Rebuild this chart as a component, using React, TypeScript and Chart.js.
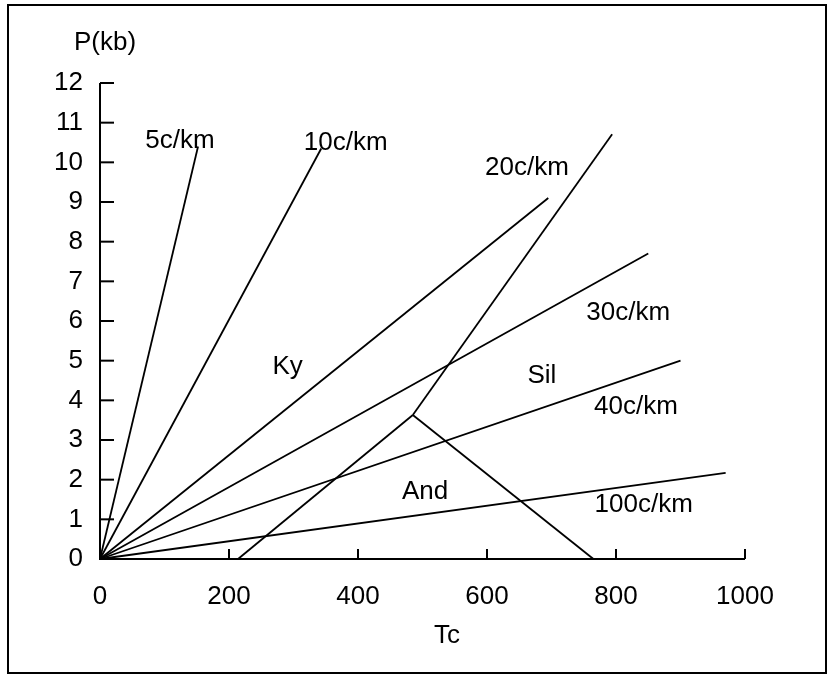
import React, { useEffect, useRef } from "react";
import { Chart, registerables } from "chart.js";

Chart.register(...registerables);

// Axis ticks
const xTickValues = [0, 200, 400, 600, 800, 1000];
const yTickValues = [0, 1, 2, 3, 4, 5, 6, 7, 8, 9, 10, 11, 12];

// Geotherms: straight lines from the origin (T in °C, P in kb)
const geothermNames = ["5c/km", "10c/km", "20c/km", "30c/km", "40c/km", "100c/km"];
const geothermEndT = [152, 343, 695, 850, 900, 970];
const geothermEndP = [10.4, 10.35, 9.1, 7.7, 5.0, 2.17];

// Al2SiO5 phase boundaries
const kyAndT = [214, 485];
const kyAndP = [0, 3.63];
const kySilT = [485, 794];
const kySilP = [3.63, 10.71];
const andSilT = [485, 765];
const andSilP = [3.63, 0];

// In-plot labels (data coordinates of the text centre / baseline)
const labelTexts = ["5c/km", "10c/km", "20c/km", "30c/km", "40c/km", "100c/km", "Ky", "Sil", "And"];
const labelT = [124, 381, 662, 819, 831, 843, 291, 685, 504];
const labelP = [10.36, 10.31, 9.68, 6.02, 3.66, 1.18, 4.66, 4.44, 1.51];

const FONT = "Liberation Sans, Arial, Helvetica, sans-serif";

function pts(ts: number[], ps: number[]) {
  return ts.map((t, i) => ({ x: t, y: ps[i] }));
}

const overlay = {
  id: "overlay",
  afterDraw(chart: any) {
    const { ctx, chartArea, scales } = chart;
    const xs = scales.x;
    const ys = scales.y;
    ctx.save();
    ctx.strokeStyle = "#000";
    ctx.fillStyle = "#000";
    // outer frame
    ctx.lineWidth = 2;
    ctx.strokeRect(8, 5, 818, 668);
    // axes
    ctx.lineWidth = 2;
    ctx.beginPath();
    ctx.moveTo(chartArea.left, ys.getPixelForValue(12));
    ctx.lineTo(chartArea.left, ys.getPixelForValue(0));
    ctx.lineTo(xs.getPixelForValue(1000), ys.getPixelForValue(0));
    ctx.stroke();
    // y ticks (inward)
    for (const v of yTickValues) {
      const y = ys.getPixelForValue(v);
      ctx.beginPath();
      ctx.moveTo(chartArea.left, y);
      ctx.lineTo(chartArea.left + 14, y);
      ctx.stroke();
    }
    // x ticks (inward)
    for (const v of xTickValues) {
      if (v === 0) continue;
      const x = xs.getPixelForValue(v);
      ctx.beginPath();
      ctx.moveTo(x, chartArea.bottom);
      ctx.lineTo(x, chartArea.bottom - 10);
      ctx.stroke();
    }
    // in-plot labels
    ctx.font = `26px ${FONT}`;
    ctx.textAlign = "center";
    ctx.textBaseline = "alphabetic";
    labelTexts.forEach((t, i) => {
      ctx.fillText(t, xs.getPixelForValue(labelT[i]), ys.getPixelForValue(labelP[i]));
    });
    // axis titles
    ctx.fillText("P(kb)", chartArea.left + 5, chartArea.top - 33);
    ctx.fillText("Tc", chartArea.left + 347, chartArea.bottom + 84);
    ctx.restore();
  },
};

export default function App() {
  const ref = useRef<HTMLCanvasElement | null>(null);
  useEffect(() => {
    if (!ref.current) return;
    const lineStyle = {
      borderColor: "#000",
      borderWidth: 1.8,
      pointRadius: 0,
      showLine: true,
      fill: false,
      tension: 0,
      clip: false as any,
    };
    const datasets: any[] = geothermNames.map((name, i) => ({
      label: name,
      data: pts([0, geothermEndT[i]], [0, geothermEndP[i]]),
      ...lineStyle,
    }));
    datasets.push({ label: "Ky-And", data: pts(kyAndT, kyAndP), ...lineStyle });
    datasets.push({ label: "Ky-Sil", data: pts(kySilT, kySilP), ...lineStyle });
    datasets.push({ label: "And-Sil", data: pts(andSilT, andSilP), ...lineStyle });

    const chart = new Chart(ref.current, {
      type: "scatter",
      data: { datasets },
      options: {
        responsive: false,
        animation: false,
        layout: { padding: { left: 40, right: 84, top: 83, bottom: 56 } },
        plugins: { legend: { display: false }, tooltip: { enabled: false } },
        scales: {
          x: {
            type: "linear",
            min: 0,
            max: 1000,
            afterFit: (s: any) => {
              s.height = 60;
            },
            afterBuildTicks: (s: any) => {
              s.ticks = xTickValues.map((v) => ({ value: v }));
            },
            grid: { display: false },
            border: { display: false },
            ticks: {
              color: "#000",
              font: { size: 26, family: FONT },
              padding: 14,
              maxRotation: 0,
              callback: (v: any) => String(v),
            },
          },
          y: {
            type: "linear",
            min: 0,
            max: 12,
            afterFit: (s: any) => {
              s.width = 60;
            },
            afterBuildTicks: (s: any) => {
              s.ticks = yTickValues.map((v) => ({ value: v }));
            },
            grid: { display: false },
            border: { display: false },
            ticks: {
              color: "#000",
              font: { size: 26, family: FONT },
              padding: 9,
              callback: (v: any) => String(v),
            },
          },
        },
      },
      plugins: [overlay],
    });
    return () => chart.destroy();
  }, []);
  return (
    <div style={{ position: "fixed", left: 0, top: 0, width: 829, height: 675, background: "#fff" }}>
      <canvas ref={ref} width={829} height={675} style={{ display: "block" }} />
    </div>
  );
}
